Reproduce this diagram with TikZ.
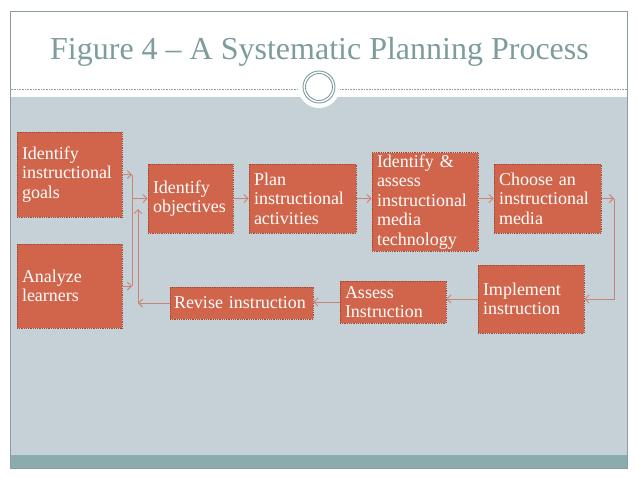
\documentclass[tikz,border=0pt]{standalone}
\usepackage{fontspec}
\setmainfont{Liberation Serif}
\usepackage{tikz}
\usetikzlibrary{arrows.meta}
\definecolor{boxfill}{HTML}{D1654B}
\definecolor{boxline}{HTML}{9E4936}
\definecolor{connline}{HTML}{C98474}
\definecolor{titlecol}{HTML}{7E9C9C}
\definecolor{panel}{HTML}{C5D1D7}
\definecolor{band}{HTML}{8AACAD}
\definecolor{frame}{HTML}{8C9DA1}

\begin{document}
\begin{tikzpicture}[x=1pt,y=-1pt,
  box/.style={draw=boxline,densely dotted,line width=0.8pt,fill=boxfill,text=white,align=left,
    inner xsep=5pt,inner ysep=2pt,font=\fontsize{18}{19.5}\selectfont},
  conn/.style={draw=connline,line width=0.9pt},
  tip/.style={-{Straight Barb[length=4pt,width=8pt]}}]
\useasboundingbox[fill=white] (0,0) rectangle (638,479);
\fill[panel] (10.5,97) rectangle (627.5,455);
\fill[band] (10.5,455) rectangle (627.5,468);
\draw[frame,line width=0.8pt] (10.5,11) rectangle (627.5,468);
\draw[frame,densely dotted,line width=0.6pt] (10.5,89) -- (298,89);
\draw[frame,densely dotted,line width=0.6pt] (340,89) -- (627.5,89);
\fill[white] (319,87) circle (21);
\draw[titlecol,line width=0.9pt] (319,87) circle (16);
\draw[titlecol,line width=0.9pt] (319,87) circle (13.5);
\node[font=\fontsize{32}{38}\selectfont,text=titlecol,anchor=base] (title) at (319.5,59) {Figure 4 – A Systematic Planning Process};

\node[box,text width=95pt,minimum height=85pt] (goals) at (69.5,174.5) {Identify\\instructional\\goals};
\node[box,text width=95pt,minimum height=84pt] (learners) at (69.5,286) {Analyze\\learners};
\node[box,text width=75pt,minimum height=69pt] (objectives) at (190.5,198.5) {Identify\\objectives};
\node[box,text width=97pt,minimum height=69pt] (activities) at (302.5,198.5) {Plan\\instructional\\activities};
\node[box,text width=96pt,minimum height=94pt] (mediatech) at (425,202) {Identify \&\\assess\\instructional\\media\\technology};
\node[box,text width=97pt,minimum height=69pt] (choose) at (547.5,198.5) {Choose an\\instructional\\media};
\node[box,text width=96pt,minimum height=68pt] (implement) at (531,299) {Implement\\instruction};
\node[box,text width=96pt,minimum height=42pt] (assess) at (393,302) {Assess\\Instruction};
\node[box,text width=135pt,inner xsep=4pt,minimum height=32pt] (revise) at (241.5,303) {Revise instruction};

\coordinate (jx) at (132,0);
\coordinate (ktop) at (138,209);
\coordinate (rx) at (614,0);

\draw[conn,tip] (goals.east) -- (goals.east -| jx);
\draw[conn,tip] (learners.east) -- (learners.east -| jx);
\draw[conn] (goals.east -| jx) -- (learners.east -| jx);
\draw[conn,tip] (objectives.west -| jx) -- (objectives.west);
\draw[conn,tip] (revise.west) -- (revise.west -| ktop);
\draw[conn,tip] (revise.west -| ktop) -- (ktop);
\draw[conn,tip] (objectives.east) -- (activities.west);
\draw[conn,tip] (activities.east) -- (activities.east -| mediatech.west);
\draw[conn,tip] (choose.west -| mediatech.east) -- (choose.west);
\draw[conn,tip] (choose.east) -- (choose.east -| rx);
\draw[conn,tip] (choose.east -| rx) |- (implement.east);
\draw[conn,tip] (implement.west) -- (implement.west -| assess.east);
\draw[conn,tip] (assess.west) -- (assess.west -| revise.east);
\end{tikzpicture}
\end{document}
